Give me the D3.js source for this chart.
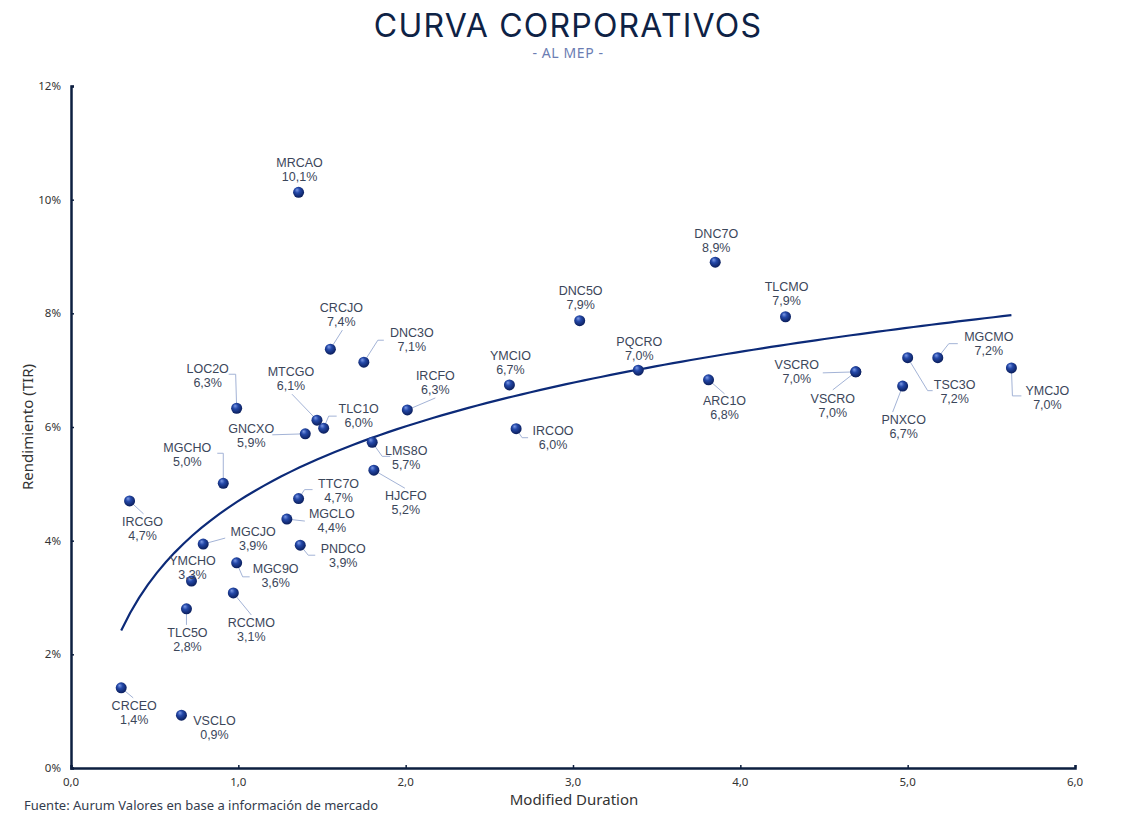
<!DOCTYPE html>
<html>
<head>
<meta charset="utf-8">
<script src="https://cdn.jsdelivr.net/npm/d3@7"></script>
<style>
  body { margin: 0; background: #fff; }
  svg { font-family: "Noto Sans", sans-serif; }
</style>
</head>
<body>
<div id="chart"></div>
<script>
// Bond tickers, modified duration and yield (TIR, %)
const tickers = ["MRCAO","DNC7O","TLCMO","DNC5O","CRCJO","DNC3O","IRCFO","YMCIO","PQCRO","IRCOO",
  "LMS8O","HJCFO","TLC1O","MTCGO","GNCXO","LOC2O","MGCHO","IRCGO","TTC7O","MGCLO",
  "MGCJO","PNDCO","MGC9O","YMCHO","TLC5O","RCCMO","CRCEO","VSCLO","ARC1O","VSCRO",
  "VSCRO","PNXCO","TSC3O","MGCMO","YMCJO"];
const durations = [1.36,3.85,4.27,3.04,1.55,1.75,2.01,2.62,3.39,2.66,
  1.80,1.81,1.51,1.47,1.40,0.99,0.91,0.35,1.36,1.29,
  0.79,1.37,0.99,0.72,0.69,0.97,0.30,0.66,3.81,4.69,
  4.69,4.97,5.00,5.18,5.62];
const yields = [10.13,8.90,7.94,7.87,7.37,7.14,6.30,6.74,7.00,5.97,
  5.73,5.24,5.98,6.12,5.88,6.33,5.01,4.70,4.74,4.38,
  3.94,3.92,3.61,3.29,2.80,3.08,1.41,0.93,6.83,6.97,
  6.97,6.72,7.22,7.22,7.04];

const xTicks = [0, 1, 2, 3, 4, 5, 6];
const yTicks = [0, 2, 4, 6, 8, 10, 12];

// label placement: offset of the label (name line centre) and leader line path, relative to the point
const labelOffsets = [[1,-30],[1,-29],[1,-30],[1,-30],[11,-42],[48,-30],[28,-34],[1,-29],[1,-29],[37,2],
  [34,8],[32,25],[35,-20],[-26,-49],[-54,-5],[-29,-40],[-36,-36],[13,21],[40,-15],[45,-5],
  [50,-12],[43,3],[39,6],[1,-20],[1,24],[18,30],[13,18],[33,5],[16,21],[-59,-7],
  [-23,27],[1,34],[47,27],[51,-21],[36,23]];
const leaders = [null,null,null,null,[[12,-19]],[[14,-22],[20,-22]],[[28,-12]],null,null,[[6,9],[12,9]],
  [[10,14],[18,14]],[[31,18]],[[5,-12],[13,-12]],[[-25,-26]],[[-33,1]],[[-1,-34],[-8,-34]],[[0,-30],[-6,-30]],[[14,13]],[[6,-9],[14,-9]],[[18,2]],
  [[22,-6]],[[8,10],[15,10]],[[6,14],[13,14]],null,[[0,16]],[[18,22]],[[12,10]],null,[[16,14]],[[-33,1]],
  [[-23,18]],[[-10,26]],[[20,33],[25,33]],[[11,-14],[20,-14]],[[1,28],[10,28]]];

const W = 1136, H = 824;
const margin = { top: 86, right: 61, bottom: 56, left: 71 };

const locale = d3.formatLocale({ decimal: ",", thousands: ".", grouping: [3], currency: ["$", ""] });
const fmt1 = locale.format(".1f");

const svg = d3.select("#chart").append("svg")
  .attr("width", W)
  .attr("height", H);

const defs = svg.append("defs");
const grad = defs.append("radialGradient")
  .attr("id", "ball")
  .attr("cx", "45%").attr("cy", "40%").attr("r", "60%")
  .attr("fx", "35%").attr("fy", "28%");
grad.append("stop").attr("offset", "0%").attr("stop-color", "#7d9ae6");
grad.append("stop").attr("offset", "40%").attr("stop-color", "#2448a8");
grad.append("stop").attr("offset", "100%").attr("stop-color", "#0a1d5a");

const x = d3.scaleLinear().domain([0, 6]).range([margin.left, W - margin.right]);
const y = d3.scaleLinear().domain([0, 12]).range([H - margin.bottom, margin.top]);

// Title
svg.append("text")
  .attr("x", 568).attr("y", 37)
  .attr("text-anchor", "middle")
  .attr("font-family", "Inter, sans-serif")
  .attr("font-weight", 400)
  .attr("font-size", 32)
  .attr("letter-spacing", 1.2)
  .attr("fill", "#0e2245")
  .text("CURVA CORPORATIVOS");

svg.append("text")
  .attr("x", 568).attr("y", 58)
  .attr("text-anchor", "middle")
  .attr("font-size", 14)
  .attr("letter-spacing", 0.6)
  .attr("fill", "#6b7db3")
  .text("- AL MEP -");

// Axes
const xAxis = svg.append("g")
  .attr("transform", `translate(0,${y(0)})`)
  .call(d3.axisTop(x).tickValues(xTicks).tickSize(3).tickFormat(""));
const yAxis = svg.append("g")
  .attr("transform", `translate(${x(0)},0)`)
  .call(d3.axisRight(y).tickValues(yTicks).tickSize(3).tickFormat(""));
[xAxis, yAxis].forEach(g => {
  g.select(".domain").attr("stroke", "#0d1f40").attr("stroke-width", 2.5);
  g.selectAll(".tick line").attr("stroke", "#0d1f40").attr("stroke-width", 1.5);
});

// tick labels
svg.append("g").selectAll("text")
  .data(xTicks)
  .join("text")
  .attr("x", d => x(d))
  .attr("y", y(0) + 18)
  .attr("text-anchor", "middle")
  .attr("font-size", 11.5)
  .attr("fill", "#333")
  .text(d => fmt1(d));

svg.append("g").selectAll("text")
  .data(yTicks)
  .join("text")
  .attr("x", x(0) - 10)
  .attr("y", d => y(d))
  .attr("dy", "0.35em")
  .attr("text-anchor", "end")
  .attr("font-size", 11.5)
  .attr("fill", "#333")
  .text(d => d + "%");

// axis titles
svg.append("text")
  .attr("x", 574).attr("y", 805)
  .attr("text-anchor", "middle")
  .attr("font-size", 15)
  .attr("fill", "#333")
  .text("Modified Duration");

svg.append("text")
  .attr("transform", `translate(33,${(margin.top + H - margin.bottom) / 2}) rotate(-90)`)
  .attr("text-anchor", "middle")
  .attr("font-size", 15)
  .attr("fill", "#333")
  .text("Rendimiento (TIR)");

// source
svg.append("text")
  .attr("x", 24).attr("y", 810)
  .attr("font-size", 13)
  .attr("fill", "#333c4d")
  .text("Fuente: Aurum Valores en base a información de mercado");

// Logarithmic trendline (least squares on ln(x))
const lx = durations.map(Math.log);
const mx = d3.mean(lx), my = d3.mean(yields);
const b = d3.sum(lx, (v, i) => (v - mx) * (yields[i] - my)) / d3.sum(lx, v => (v - mx) ** 2);
const a = my - b * mx;
const [xmin, xmax] = d3.extent(durations);
const trend = d3.range(0, 101).map(i => {
  const d = xmin + (xmax - xmin) * i / 100;
  return [d, a + b * Math.log(d)];
});
svg.append("path")
  .datum(trend)
  .attr("fill", "none")
  .attr("stroke", "#0c2a78")
  .attr("stroke-width", 2.2)
  .attr("d", d3.line().x(d => x(d[0])).y(d => y(d[1])));

const points = tickers.map((t, i) => ({ t, d: durations[i], v: yields[i], off: labelOffsets[i], lead: leaders[i] }));

// leader lines
svg.append("g").selectAll("path")
  .data(points.filter(p => p.lead))
  .join("path")
  .attr("fill", "none")
  .attr("stroke", "#a3b3d6")
  .attr("stroke-width", 1)
  .attr("d", p => {
    const px = x(p.d), py = y(p.v);
    return "M" + px + "," + py + p.lead.map(q => "L" + (px + q[0]) + "," + (py + q[1])).join("");
  });

// points
svg.append("g").selectAll("circle")
  .data(points)
  .join("circle")
  .attr("cx", p => x(p.d))
  .attr("cy", p => y(p.v))
  .attr("r", 5.5)
  .attr("fill", "url(#ball)");

// labels: ticker and yield on two lines
const labels = svg.append("g")
  .attr("font-family", "'Liberation Sans', sans-serif")
  .attr("font-size", 12.5)
  .attr("fill", "#3b465a")
  .attr("text-anchor", "middle");
labels.selectAll("text.name")
  .data(points)
  .join("text")
  .attr("class", "name")
  .attr("x", p => x(p.d) + p.off[0])
  .attr("y", p => y(p.v) + p.off[1])
  .attr("dy", "0.35em")
  .text(p => p.t);
labels.selectAll("text.val")
  .data(points)
  .join("text")
  .attr("class", "val")
  .attr("x", p => x(p.d) + p.off[0])
  .attr("y", p => y(p.v) + p.off[1] + 14)
  .attr("dy", "0.35em")
  .text(p => fmt1(p.v) + "%");
</script>
</body>
</html>
